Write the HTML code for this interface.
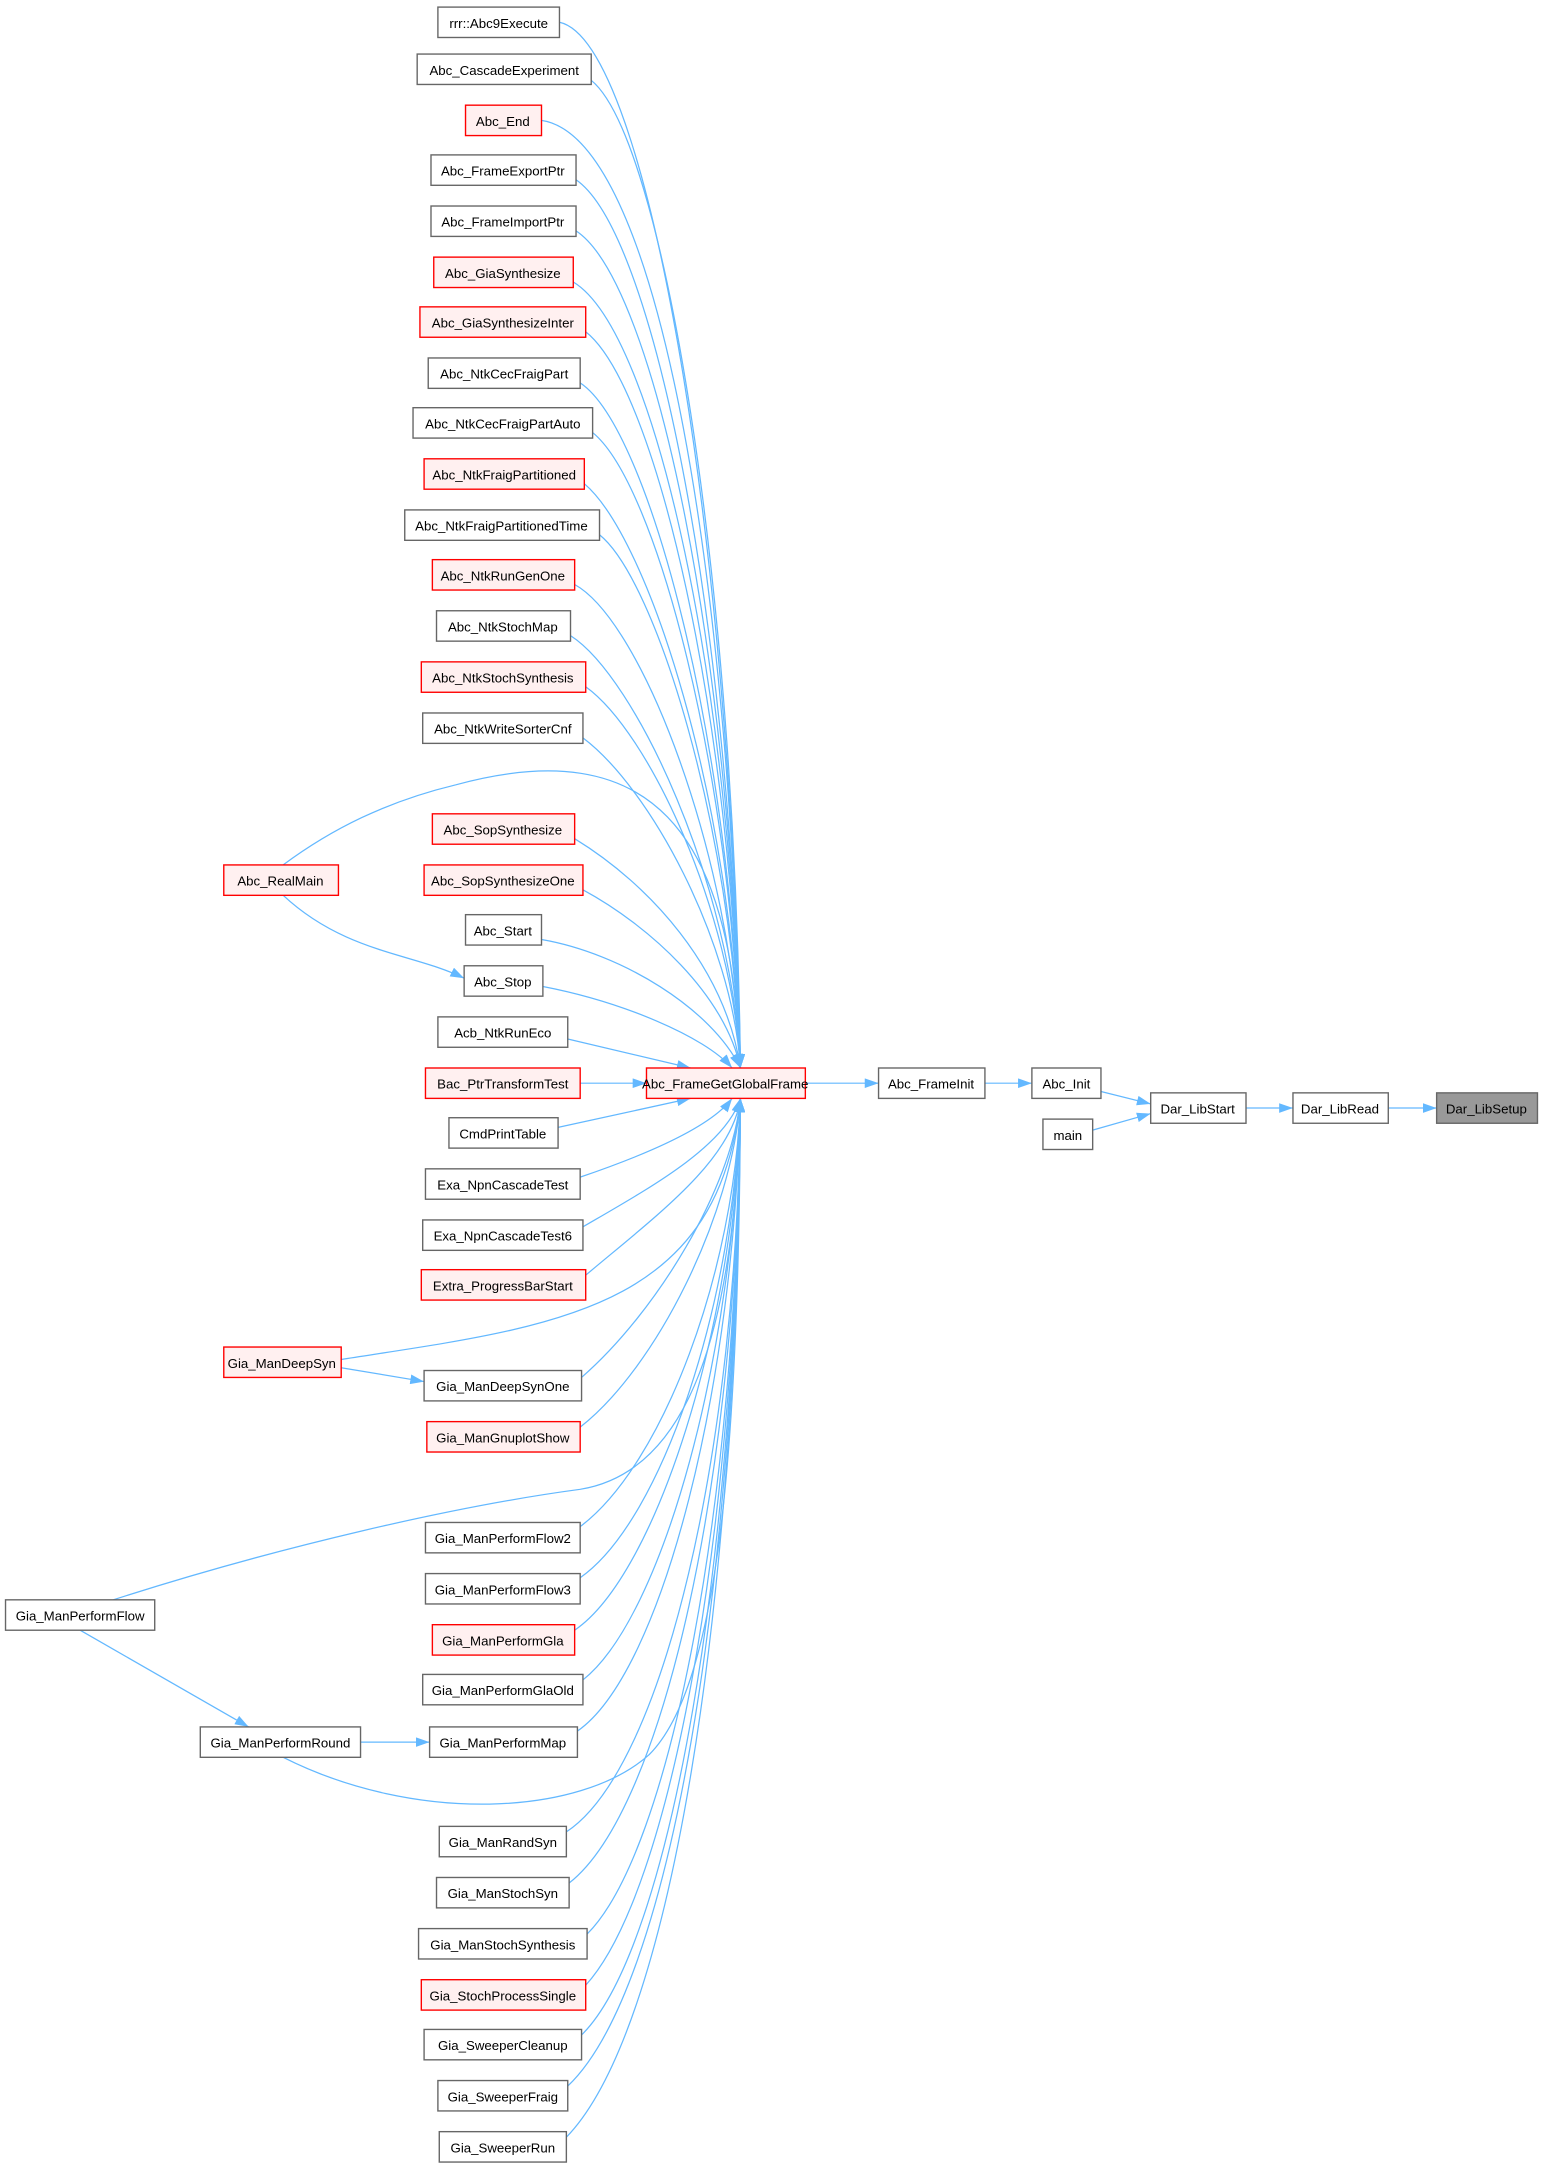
<!DOCTYPE html>
<html><head><meta charset="utf-8"><style>
html,body{margin:0;padding:0;background:#fff;}
svg{display:block;}
text{font-family:"Liberation Sans",Arial,sans-serif;font-size:9.6px;fill:#000;text-anchor:middle;}
.n{fill:#fff;stroke:#666;stroke-width:1;}
.r{fill:#fff0f0;stroke:#ff0000;stroke-width:1;}
.g{fill:#999;stroke:#666;stroke-width:1;}
.e{fill:none;stroke:#63b8ff;stroke-width:0.9;}
</style></head><body>
<svg width="1543" height="2165" viewBox="0 0 1117 1567" xmlns="http://www.w3.org/2000/svg">
<defs><marker id="a" markerWidth="10" markerHeight="7" refX="10" refY="3.5" orient="auto" markerUnits="userSpaceOnUse"><path d="M0,0 L10,3.5 L0,7 z" fill="#63b8ff"/></marker></defs>
<g class="edges">
<path class="e" marker-end="url(#a)" d="M405,16 C470,30 530,400 536,773"/>
<path class="e" marker-end="url(#a)" d="M428,58 C480,100 532,420 536,773"/>
<path class="e" marker-end="url(#a)" d="M392,87 C480,100 530,440 536,773"/>
<path class="e" marker-end="url(#a)" d="M417,130 C475,170 530,460 536,773"/>
<path class="e" marker-end="url(#a)" d="M417,167 C475,205 530,480 536,773"/>
<path class="e" marker-end="url(#a)" d="M415,204 C475,240 530,500 536,773"/>
<path class="e" marker-end="url(#a)" d="M424,240 C475,280 530,520 536,773"/>
<path class="e" marker-end="url(#a)" d="M420,277 C470,310 530,540 536,773"/>
<path class="e" marker-end="url(#a)" d="M429,313 C475,350 530,560 536,773"/>
<path class="e" marker-end="url(#a)" d="M423,350 C470,390 530,580 536,773"/>
<path class="e" marker-end="url(#a)" d="M434,387 C475,420 530,600 536,773"/>
<path class="e" marker-end="url(#a)" d="M416,423 C465,450 530,620 536,773"/>
<path class="e" marker-end="url(#a)" d="M413,460 C460,490 530,640 536,773"/>
<path class="e" marker-end="url(#a)" d="M424,497 C470,530 530,660 536,773"/>
<path class="e" marker-end="url(#a)" d="M422,534 C470,570 530,680 536,773"/>
<path class="e" marker-end="url(#a)" d="M416,607 C470,640 525,700 536,773"/>
<path class="e" marker-end="url(#a)" d="M422,644 C470,670 525,720 536,773"/>
<path class="e" marker-end="url(#a)" d="M392,680 C450,690 515,730 536,773"/>
<path class="e" marker-end="url(#a)" d="M393,714 C450,725 510,750 530,773"/>
<path class="e" marker-end="url(#a)" d="M411,752 L500,773"/>
<path class="e" marker-end="url(#a)" d="M420,784 L468,784"/>
<path class="e" marker-end="url(#a)" d="M404,816 L500,795"/>
<path class="e" marker-end="url(#a)" d="M420,852 C470,835 515,815 530,795"/>
<path class="e" marker-end="url(#a)" d="M422,888 C470,860 525,830 536,795"/>
<path class="e" marker-end="url(#a)" d="M424,923 C475,880 530,840 536,795"/>
<path class="e" marker-end="url(#a)" d="M247,984 C400,960 520,950 536,795"/>
<path class="e" marker-end="url(#a)" d="M421,997 C475,950 530,860 536,795"/>
<path class="e" marker-end="url(#a)" d="M420,1033 C475,990 530,880 536,795"/>
<path class="e" marker-end="url(#a)" d="M82,1158 C200,1120 330,1090 420,1078 C500,1065 532,960 536,795"/>
<path class="e" marker-end="url(#a)" d="M420,1105 C480,1060 532,920 536,795"/>
<path class="e" marker-end="url(#a)" d="M420,1142 C480,1100 532,940 536,795"/>
<path class="e" marker-end="url(#a)" d="M416,1180 C475,1140 532,960 536,795"/>
<path class="e" marker-end="url(#a)" d="M422,1216 C480,1170 532,980 536,795"/>
<path class="e" marker-end="url(#a)" d="M418,1253 C480,1210 532,1000 536,795"/>
<path class="e" marker-end="url(#a)" d="M205,1272 C300,1320 420,1315 470,1270 C520,1220 535,1050 536,795"/>
<path class="e" marker-end="url(#a)" d="M410,1326 C480,1280 534,1050 536,795"/>
<path class="e" marker-end="url(#a)" d="M412,1363 C480,1310 534,1070 536,795"/>
<path class="e" marker-end="url(#a)" d="M425,1400 C485,1340 534,1090 536,795"/>
<path class="e" marker-end="url(#a)" d="M424,1437 C485,1370 534,1110 536,795"/>
<path class="e" marker-end="url(#a)" d="M421,1473 C485,1410 534,1130 536,795"/>
<path class="e" marker-end="url(#a)" d="M411,1510 C485,1440 534,1150 536,795"/>
<path class="e" marker-end="url(#a)" d="M410,1547 C485,1470 534,1170 536,795"/>
<path class="e" marker-end="url(#a)" d="M205,626 C240,600 280,580 330,568 C470,530 530,600 536,773"/>
<path class="e" marker-end="url(#a)" d="M205,648 C250,690 300,690 336,708"/>
<path class="e" marker-end="url(#a)" d="M247,990 L307,1000"/>
<path class="e" marker-end="url(#a)" d="M58,1180 L180,1250"/>
<path class="e" marker-end="url(#a)" d="M261,1261 L311,1261"/>
<path class="e" marker-end="url(#a)" d="M583,784 L636,784"/>
<path class="e" marker-end="url(#a)" d="M713,784 L747,784"/>
<path class="e" marker-end="url(#a)" d="M797,790 L833,799"/>
<path class="e" marker-end="url(#a)" d="M791,818 L833,806"/>
<path class="e" marker-end="url(#a)" d="M902,802 L936,802"/>
<path class="e" marker-end="url(#a)" d="M1005,802 L1040,802"/>
</g>
<g>
<rect class="n" x="317" y="5" width="88" height="22"/><text x="361" y="20">rrr::Abc9Execute</text>
<rect class="n" x="302" y="39" width="126" height="22"/><text x="365" y="54">Abc_CascadeExperiment</text>
<rect class="r" x="337" y="76" width="55" height="22"/><text x="364" y="91">Abc_End</text>
<rect class="n" x="312" y="112" width="105" height="22"/><text x="364" y="127">Abc_FrameExportPtr</text>
<rect class="n" x="312" y="149" width="105" height="22"/><text x="364" y="164">Abc_FrameImportPtr</text>
<rect class="r" x="314" y="186" width="101" height="22"/><text x="364" y="201">Abc_GiaSynthesize</text>
<rect class="r" x="304" y="222" width="120" height="22"/><text x="364" y="237">Abc_GiaSynthesizeInter</text>
<rect class="n" x="310" y="259" width="110" height="22"/><text x="365" y="274">Abc_NtkCecFraigPart</text>
<rect class="n" x="299" y="295" width="130" height="22"/><text x="364" y="310">Abc_NtkCecFraigPartAuto</text>
<rect class="r" x="307" y="332" width="116" height="22"/><text x="365" y="347">Abc_NtkFraigPartitioned</text>
<rect class="n" x="293" y="369" width="141" height="22"/><text x="363" y="384">Abc_NtkFraigPartitionedTime</text>
<rect class="r" x="313" y="405" width="103" height="22"/><text x="364" y="420">Abc_NtkRunGenOne</text>
<rect class="n" x="316" y="442" width="97" height="22"/><text x="364" y="457">Abc_NtkStochMap</text>
<rect class="r" x="305" y="479" width="119" height="22"/><text x="364" y="494">Abc_NtkStochSynthesis</text>
<rect class="n" x="306" y="516" width="116" height="22"/><text x="364" y="531">Abc_NtkWriteSorterCnf</text>
<rect class="r" x="313" y="589" width="103" height="22"/><text x="364" y="604">Abc_SopSynthesize</text>
<rect class="r" x="307" y="626" width="115" height="22"/><text x="364" y="641">Abc_SopSynthesizeOne</text>
<rect class="n" x="337" y="662" width="55" height="22"/><text x="364" y="677">Abc_Start</text>
<rect class="n" x="336" y="699" width="57" height="22"/><text x="364" y="714">Abc_Stop</text>
<rect class="n" x="317" y="736" width="94" height="22"/><text x="364" y="751">Acb_NtkRunEco</text>
<rect class="r" x="308" y="773" width="112" height="22"/><text x="364" y="788">Bac_PtrTransformTest</text>
<rect class="n" x="325" y="809" width="79" height="22"/><text x="364" y="824">CmdPrintTable</text>
<rect class="n" x="308" y="846" width="112" height="22"/><text x="364" y="861">Exa_NpnCascadeTest</text>
<rect class="n" x="306" y="883" width="116" height="22"/><text x="364" y="898">Exa_NpnCascadeTest6</text>
<rect class="r" x="305" y="919" width="119" height="22"/><text x="364" y="934">Extra_ProgressBarStart</text>
<rect class="n" x="307" y="992" width="114" height="22"/><text x="364" y="1007">Gia_ManDeepSynOne</text>
<rect class="r" x="309" y="1029" width="111" height="22"/><text x="364" y="1044">Gia_ManGnuplotShow</text>
<rect class="n" x="308" y="1102" width="112" height="22"/><text x="364" y="1117">Gia_ManPerformFlow2</text>
<rect class="n" x="308" y="1139" width="112" height="22"/><text x="364" y="1154">Gia_ManPerformFlow3</text>
<rect class="r" x="313" y="1176" width="103" height="22"/><text x="364" y="1191">Gia_ManPerformGla</text>
<rect class="n" x="306" y="1212" width="116" height="22"/><text x="364" y="1227">Gia_ManPerformGlaOld</text>
<rect class="n" x="311" y="1250" width="107" height="22"/><text x="364" y="1265">Gia_ManPerformMap</text>
<rect class="n" x="318" y="1322" width="92" height="22"/><text x="364" y="1337">Gia_ManRandSyn</text>
<rect class="n" x="316" y="1359" width="96" height="22"/><text x="364" y="1374">Gia_ManStochSyn</text>
<rect class="n" x="303" y="1396" width="122" height="22"/><text x="364" y="1411">Gia_ManStochSynthesis</text>
<rect class="r" x="305" y="1433" width="119" height="22"/><text x="364" y="1448">Gia_StochProcessSingle</text>
<rect class="n" x="307" y="1469" width="114" height="22"/><text x="364" y="1484">Gia_SweeperCleanup</text>
<rect class="n" x="317" y="1506" width="94" height="22"/><text x="364" y="1521">Gia_SweeperFraig</text>
<rect class="n" x="318" y="1543" width="92" height="22"/><text x="364" y="1558">Gia_SweeperRun</text>
<rect class="r" x="162" y="626" width="83" height="22"/><text x="203" y="641">Abc_RealMain</text>
<rect class="r" x="162" y="975" width="85" height="22"/><text x="204" y="990">Gia_ManDeepSyn</text>
<rect class="n" x="4" y="1158" width="108" height="22"/><text x="58" y="1173">Gia_ManPerformFlow</text>
<rect class="n" x="145" y="1250" width="116" height="22"/><text x="203" y="1265">Gia_ManPerformRound</text>
<rect class="r" x="468" y="773" width="115" height="22"/><text x="525" y="788">Abc_FrameGetGlobalFrame</text>
<rect class="n" x="636" y="773" width="77" height="22"/><text x="674" y="788">Abc_FrameInit</text>
<rect class="n" x="747" y="773" width="50" height="22"/><text x="772" y="788">Abc_Init</text>
<rect class="n" x="755" y="810" width="36" height="22"/><text x="773" y="825">main</text>
<rect class="n" x="833" y="791" width="69" height="22"/><text x="867" y="806">Dar_LibStart</text>
<rect class="n" x="936" y="791" width="69" height="22"/><text x="970" y="806">Dar_LibRead</text>
<rect class="g" x="1040" y="791" width="73" height="22"/><text x="1076" y="806">Dar_LibSetup</text>
</g>
</svg>
</body></html>
